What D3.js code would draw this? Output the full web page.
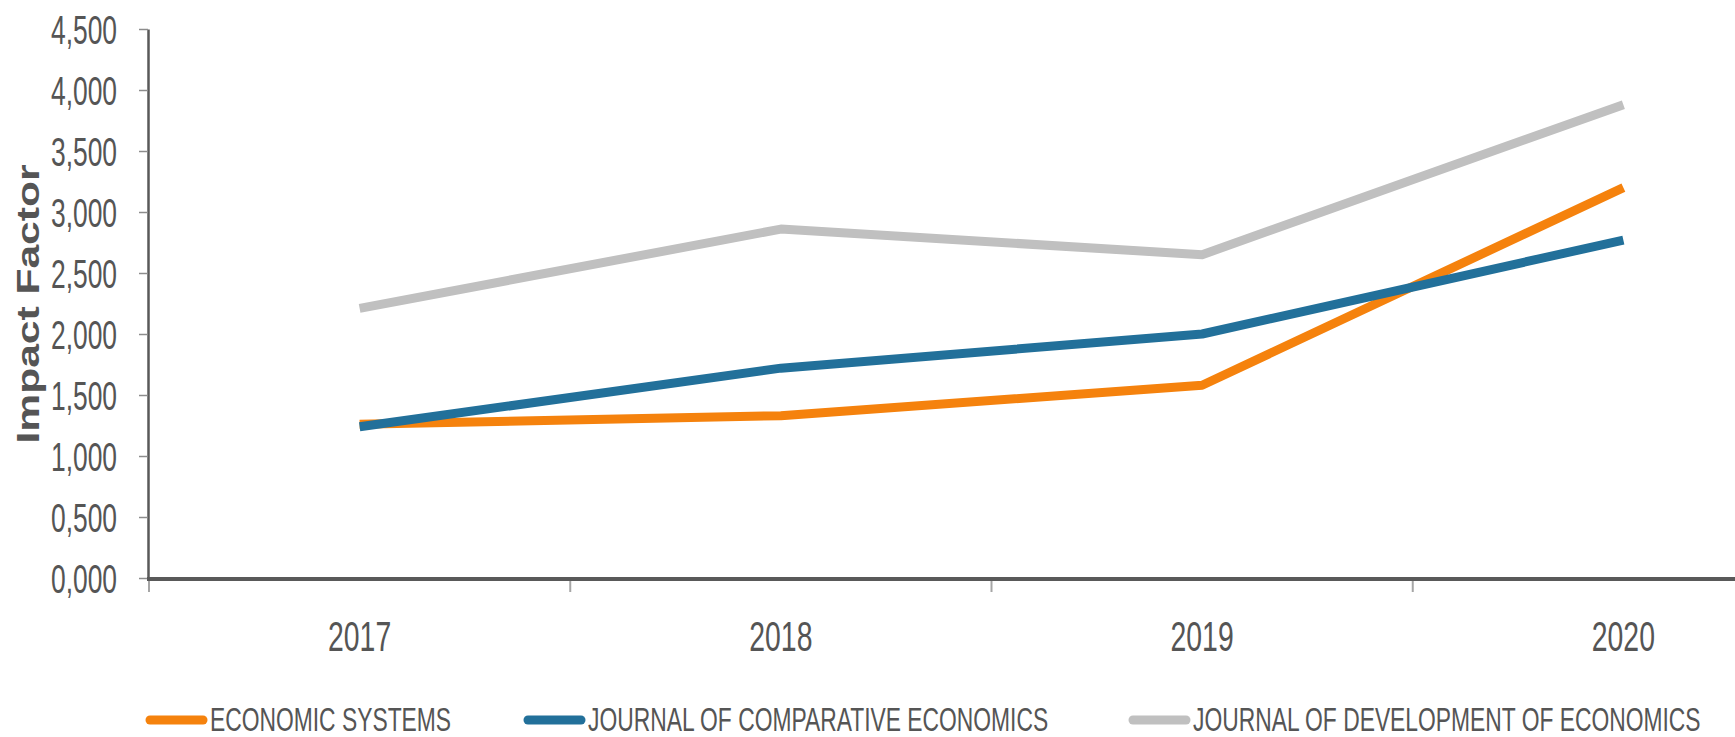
<!DOCTYPE html>
<html>
<head>
<meta charset="utf-8">
<script src="https://cdn.jsdelivr.net/npm/d3@7"></script>
<style>
  body { margin: 0; background: #fff; }
  svg { display: block; font-family: "Liberation Sans", Arial, sans-serif; }
</style>
</head>
<body>
<svg class="impact-chart" width="1735" height="737"></svg>
<script>
// data
var years = ["2017", "2018", "2019", "2020"];
var economicSystems = [1.26, 1.33, 1.58, 3.20];
var comparativeEconomics = [1.24, 1.72, 2.00, 2.77];
var developmentEconomics = [2.21, 2.86, 2.65, 3.88];
var seriesNames = ["ECONOMIC SYSTEMS", "JOURNAL OF COMPARATIVE ECONOMICS", "JOURNAL OF DEVELOPMENT OF ECONOMICS"];
var yTicks = [0, 0.5, 1, 1.5, 2, 2.5, 3, 3.5, 4, 4.5];

var colours = ["#f5820d", "#22709a", "#c0c0c0"];
var textColour = "#555555";

var svg = d3.select("svg.impact-chart");

var series = [economicSystems, comparativeEconomics, developmentEconomics].map(function (vals, i) {
    return { name: seriesNames[i], colour: colours[i], values: vals };
});

// scales - the plot is cut off on the right, last band runs past the edge
var x = d3.scaleBand().domain(years).range([149, 1834]);
var y = d3.scaleLinear().domain([0, 4.5]).range([578, 29]);

var fmt = function (v) { return d3.format(".3f")(v).replace(".", ","); };

//////////// Y AXIS ////////////
var ySx = 0.66;
var yAxis = svg.append("g")
    .attr("transform", "translate(148,0)")
    .call(d3.axisLeft(y).tickValues(yTicks).tickFormat(fmt).tickSize(9).tickSizeOuter(0));
yAxis.select(".domain").attr("stroke", "#595959").attr("stroke-width", 2.5);
yAxis.selectAll(".tick line").attr("stroke", "#8c8c8c").attr("stroke-width", 1.5);
yAxis.selectAll(".tick text")
    .attr("fill", textColour)
    .style("font-size", "40px")
    .attr("x", -31 / ySx)
    .attr("dy", "0.36em")
    .attr("transform", "scale(" + ySx + ",1)");

svg.append("text")
    .attr("transform", "translate(27,304) rotate(-90) scale(1.33,1)")
    .attr("text-anchor", "middle")
    .attr("dy", "0.36em")
    .attr("fill", textColour)
    .style("font-size", "32px")
    .style("font-weight", "bold")
    .text("Impact Factor");

//////////// X AXIS ////////////
var xSx = 0.66;
var xAxis = svg.append("g")
    .attr("transform", "translate(0,578)")
    .call(d3.axisBottom(x).tickSize(0).tickPadding(73));
xAxis.select(".domain").remove();
xAxis.selectAll(".tick text")
    .attr("fill", textColour)
    .style("font-size", "43px")
    .attr("dy", "0em")
    .attr("transform", "scale(" + xSx + ",1)");

// tick marks sit on the band edges
svg.append("g").selectAll("line")
    .data(years)
    .enter().append("line")
    .attr("x1", function (d) { return x(d); })
    .attr("x2", function (d) { return x(d); })
    .attr("y1", 578)
    .attr("y2", 592)
    .attr("stroke", "#a6a6a6")
    .attr("stroke-width", 2);

svg.append("line")
    .attr("x1", 147).attr("x2", x.range()[1])
    .attr("y1", 579).attr("y2", 579)
    .attr("stroke", "#595959")
    .attr("stroke-width", 4);

//////////// LINES ////////////
var line = d3.line()
    .x(function (d, i) { return x(years[i]) + x.bandwidth() / 2; })
    .y(function (d) { return y(d); });

svg.append("g")
    .selectAll("path")
    .data(series)
    .enter().append("path")
    .attr("d", function (d) { return line(d.values); })
    .attr("fill", "none")
    .attr("stroke", function (d) { return d.colour; })
    .attr("stroke-width", 9)
    .attr("stroke-linejoin", "round")
    .attr("stroke-linecap", "butt");

//////////// LEGEND ////////////
var legendX = [146, 524, 1129];
var legend = svg.append("g")
    .selectAll("g")
    .data(series)
    .enter().append("g")
    .attr("transform", function (d, i) { return "translate(" + legendX[i] + ",720)"; });

legend.append("line")
    .attr("x1", 4).attr("x2", 57)
    .attr("stroke", function (d) { return d.colour; })
    .attr("stroke-width", 9)
    .attr("stroke-linecap", "round");

legend.append("text")
    .attr("transform", "translate(64,0) scale(0.672,1)")
    .attr("dy", "0.33em")
    .attr("fill", textColour)
    .style("font-size", "34px")
    .text(function (d) { return d.name; });
</script>
</body>
</html>
